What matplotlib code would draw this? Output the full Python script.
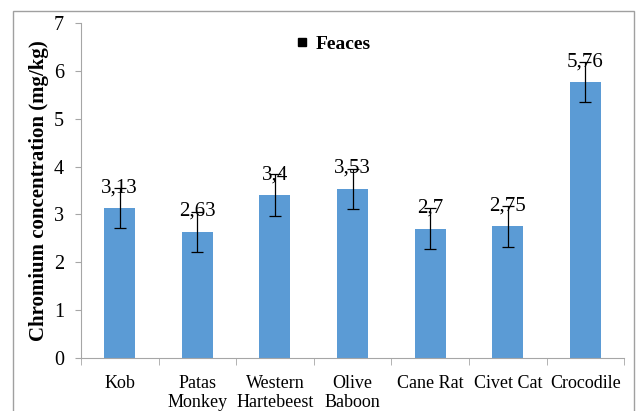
import numpy as np
import matplotlib.pyplot as plt
from matplotlib.patches import Rectangle

plt.rcParams.update({'font.family': 'Liberation Serif'})

# data
animals = ['Kob', 'Patas\nMonkey', 'Western\nHartebeest', 'Olive\nBaboon',
           'Cane Rat', 'Civet Cat', 'Crocodile']
faeces = [3.13, 2.63, 3.4, 3.53, 2.7, 2.75, 5.76]
errors = [0.42, 0.42, 0.44, 0.42, 0.43, 0.43, 0.42]
labels = ['3,13', '2,63', '3,4', '3,53', '2,7', '2,75', '5,76']

fig = plt.figure(figsize=(6.37, 4.11), dpi=100)
ax = fig.add_axes([0.127, 0.129, 0.853, 0.815])

x = np.arange(len(animals))
ax.bar(x, faeces, width=0.4, color='#5B9BD5', zorder=2)
ax.errorbar(x, faeces, yerr=errors, fmt='none', ecolor='black',
            elinewidth=0.9, capsize=4, capthick=0.9, zorder=4)

for xi, v, t in zip(x, faeces, labels):
    ax.annotate(t, (xi, v), xytext=(0, 8), textcoords='offset points',
                ha='center', va='bottom', fontsize=15, zorder=3)

ax.set_xlim(-0.5, 6.5)
ax.set_ylim(0, 7)
ax.set_yticks(range(0, 8))
ax.set_xticks(x)
ax.set_xticklabels(animals, fontsize=13, linespacing=1.15)
ax.set_xticks(np.arange(-0.5, 7, 1), minor=True)
ax.tick_params(axis='x', which='major', length=0, pad=12)
ax.tick_params(axis='x', which='minor', length=5, color='#A6A6A6')
ax.tick_params(axis='y', labelsize=14.5, length=4, color='#A6A6A6', pad=8)

for s in ['top', 'right']:
    ax.spines[s].set_visible(False)
for s in ['left', 'bottom']:
    ax.spines[s].set_color('#A6A6A6')

ax.set_ylabel('Chromium concentration (mg/kg)', fontsize=15,
              fontweight='bold', labelpad=4)

# legend
ax.plot([], [], 's', color='black', markersize=6, label='Feaces')
ax.legend(loc='upper center', bbox_to_anchor=(0.465, 1.015), frameon=False,
          handlelength=0.6, handletextpad=0.4,
          prop={'weight': 'bold', 'size': 14, 'family': 'Liberation Serif'})

# outer chart border
fig.add_artist(Rectangle((13 / 637, -0.05), 621 / 637, 1.023,
                         fill=False, edgecolor='#A0A0A0', linewidth=1,
                         transform=fig.transFigure))

plt.savefig('out.png', dpi=100)
